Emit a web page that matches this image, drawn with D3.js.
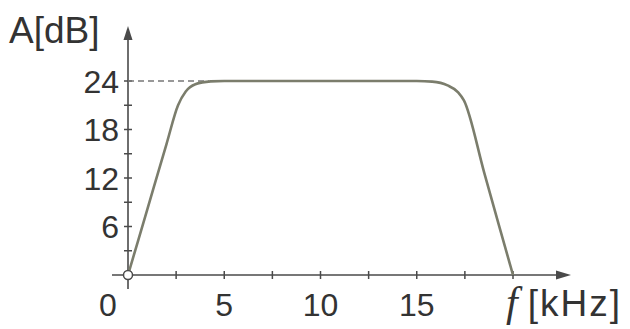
<!DOCTYPE html>
<html><head><meta charset="utf-8">
<script src="https://cdn.jsdelivr.net/npm/d3@7"></script>
<style>body{margin:0;background:#fff}svg{display:block}</style>
</head><body>
<script>
const freq = [0, 1, 2, 2.6, 3.0, 3.5, 4.3, 5, 10, 15, 15.8, 16.6, 17.15, 17.45, 18.5, 19.3, 20];
const gain = [0, 8.1, 16.2, 21.0, 22.7, 23.6, 23.95, 24, 24, 24, 23.92, 23.45, 22.6, 21.6, 12.7, 5.9, 0];
const yTickLabels = [6, 12, 18, 24];
const yMinorTicks = [3, 6, 9, 12, 15, 18, 21, 24];
const xTickLabels = [0, 5, 10, 15];
const xMinorTicks = [2.5, 5, 7.5, 10, 12.5, 15, 17.5, 20];

const W = 630, H = 329;
const svg = d3.select("body").append("svg").attr("width", W).attr("height", H);
const x = d3.scaleLinear().domain([0, 20]).range([128, 513]);
const y = d3.scaleLinear().domain([0, 24]).range([275, 81]);
const axisCol = "#4a4a4a";
const font = "'Liberation Sans', Arial, sans-serif";

// axes
svg.append("line").attr("x1", x(0)).attr("x2", x(0)).attr("y1", 289).attr("y2", 36)
  .attr("stroke", axisCol).attr("stroke-width", 1.6);
svg.append("path").attr("d", `M${x(0)},26 L${x(0)-4.5},40 L${x(0)+4.5},40 Z`).attr("fill", axisCol);
svg.append("line").attr("x1", 112).attr("x2", 560).attr("y1", y(0)).attr("y2", y(0))
  .attr("stroke", axisCol).attr("stroke-width", 1.6);
svg.append("path").attr("d", `M571,${y(0)} L556,${y(0)-4.5} L556,${y(0)+4.5} Z`).attr("fill", axisCol);

// ticks
svg.selectAll(".yt").data(yMinorTicks).enter().append("line")
  .attr("x1", x(0)-4).attr("x2", x(0)+4).attr("y1", d => y(d)).attr("y2", d => y(d))
  .attr("stroke", axisCol).attr("stroke-width", 1.5);
svg.selectAll(".xt").data(xMinorTicks).enter().append("line")
  .attr("y1", y(0)-4).attr("y2", y(0)+4).attr("x1", d => x(d)).attr("x2", d => x(d))
  .attr("stroke", axisCol).attr("stroke-width", 1.5);

// dashed guide
svg.append("line").attr("x1", x(0)).attr("x2", x(4.2)).attr("y1", y(24)).attr("y2", y(24))
  .attr("stroke", "#777").attr("stroke-width", 1.6).attr("stroke-dasharray", "6,4");

// curve
const pts = freq.map((f, i) => [f, gain[i]]);
const line = d3.line().x(d => x(d[0])).y(d => y(d[1])).curve(d3.curveMonotoneX);
svg.append("path").attr("d", line(pts)).attr("fill", "none")
  .attr("stroke", "#7b7d6c").attr("stroke-width", 2.6);

// origin circle
svg.append("circle").attr("cx", x(0)).attr("cy", y(0)).attr("r", 4.5)
  .attr("fill", "#fff").attr("stroke", axisCol).attr("stroke-width", 1.5);

// labels
svg.selectAll(".yl").data(yTickLabels).enter().append("text")
  .attr("x", 119).attr("y", d => y(d)).attr("dy", "0.36em").attr("text-anchor", "end")
  .attr("font-family", font).attr("font-size", 32).attr("fill", "#333").text(d => d);
svg.selectAll(".xl").data(xTickLabels).enter().append("text")
  .attr("x", d => d === 0 ? 108 : x(d)).attr("y", 316).attr("text-anchor", "middle")
  .attr("font-family", font).attr("font-size", 32).attr("fill", "#333").text(d => d);

svg.append("text").attr("x", 9).attr("y", 43).attr("font-family", font)
  .attr("font-size", 37).attr("fill", "#333").text("A[dB]");

const xt = svg.append("text").attr("x", 506).attr("y", 316).attr("font-family", font)
  .attr("font-size", 37).attr("fill", "#333");
xt.append("tspan").attr("font-family", "'Liberation Serif', 'Times New Roman', serif")
  .attr("font-style", "italic").attr("font-size", 42).text("f");
xt.append("tspan").attr("dx", 10).attr("letter-spacing", 2).text("[kHz]");
</script>
</body></html>
